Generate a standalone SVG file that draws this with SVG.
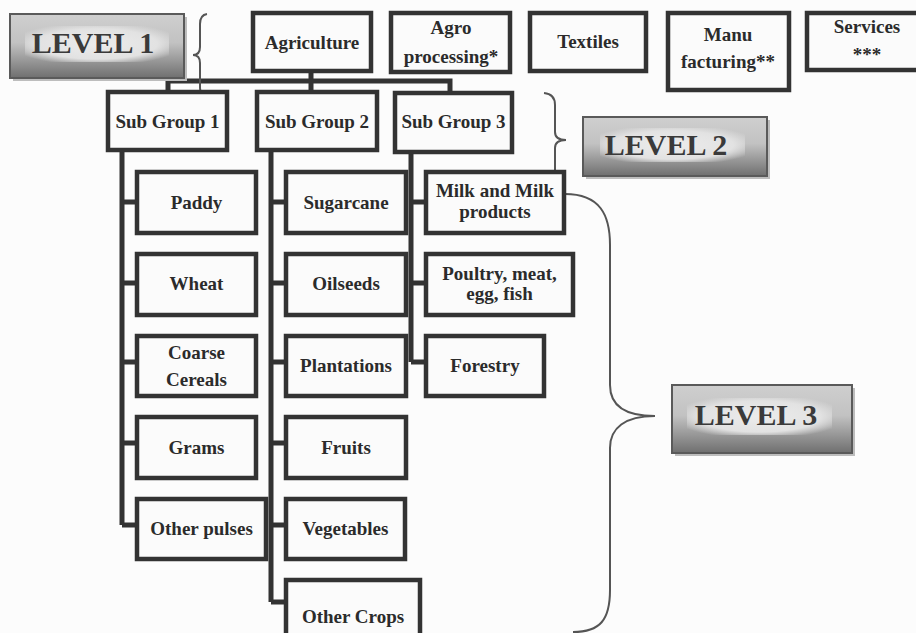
<svg xmlns="http://www.w3.org/2000/svg" width="916" height="633" viewBox="0 0 916 633">
<style>
.box{fill:#fbfbfb;stroke:#333;stroke-width:4.5}
.t{font-family:"Liberation Serif","Times New Roman",serif;font-weight:bold;font-size:19px;fill:#2b2b2b;text-anchor:middle}
.lv{font-family:"Liberation Serif","Times New Roman",serif;font-weight:bold;font-size:30px;fill:#3a3a3a;text-anchor:middle}
.con{fill:none;stroke:#333;stroke-width:5;stroke-linejoin:miter}
.brace{fill:none;stroke:#555;stroke-width:2}
.lvbox{fill:url(#lvg);stroke:#5a5a5a;stroke-width:2}
.lvin{fill:url(#lvi)}
.shadow{fill:#bdbdbd}
</style>
<defs>
<linearGradient id="lvg" x1="0" y1="0" x2="0" y2="1">
<stop offset="0" stop-color="#cfcfcf"/>
<stop offset="0.45" stop-color="#c2c2c2"/>
<stop offset="1" stop-color="#6f6f6f"/>
</linearGradient>
<radialGradient id="lvi" cx="0.5" cy="0.5" r="0.6">
<stop offset="0" stop-color="#ececec"/>
<stop offset="0.7" stop-color="#e2e2e2"/>
<stop offset="1" stop-color="#e2e2e2" stop-opacity="0"/>
</radialGradient>
</defs>
<rect width="916" height="633" fill="#fcfcfc"/>

<g id="connectors">
<path class="con" d="M311,71 V81 M168,92 V81 H450 V94 M311,81 V92"/>
<path class="con" d="M122,150 V525 M122,202 H137 M122,283 H137 M122,362 H137 M122,443 H137 M122,525 H137"/>
<path class="con" d="M271,150 V602 M271,202 H286 M271,283 H286 M271,362 H286 M271,443 H286 M271,525 H286 M271,602 H286"/>
<path class="con" d="M411,152 V362 M411,202 H426 M411,283 H426 M411,362 H426"/>
</g>

<g id="braces">
<path class="brace" d="M207,14 Q200,15 200,24 L200,47 Q200,55 193,55 Q200,55 200,63 L200,88 Q200,96 207,96"/>
<path class="brace" d="M544,93 Q555,94 555,105 L555,132 Q555,140 566,140 Q555,140 555,148 L555,172 Q555,182 544,182"/>
<path class="brace" d="M565,194 C600,194 610,215 610,245 L610,385 C610,405 625,416 655,416 C625,416 610,428 610,448 L610,590 C610,620 600,632 573,632"/>
</g>

<g id="level1">
<rect class="shadow" x="13" y="17" width="174" height="64"/>
<rect class="lvbox" x="10" y="14" width="174" height="64"/>
<rect class="lvin" x="25" y="26" width="144" height="36"/>
<text class="lv" x="93" y="53">LEVEL 1</text>
</g>
<g id="level2">
<rect class="shadow" x="586" y="120" width="184" height="59"/>
<rect class="lvbox" x="583" y="117" width="184" height="59"/>
<rect class="lvin" x="600" y="128" width="145" height="34"/>
<text class="lv" x="666" y="155">LEVEL 2</text>
</g>
<g id="level3">
<rect class="shadow" x="675" y="388" width="180" height="68"/>
<rect class="lvbox" x="672" y="385" width="180" height="68"/>
<rect class="lvin" x="687" y="398" width="145" height="37"/>
<text class="lv" x="756" y="425">LEVEL 3</text>
</g>

<g id="agriculture"><rect class="box" x="253" y="13" width="118" height="58"/><text class="t" x="312" y="49">Agriculture</text></g>
<g id="agro"><rect class="box" x="391" y="13" width="119" height="59"/><text class="t" x="451" y="34">Agro</text><text class="t" x="451" y="63">processing*</text></g>
<g id="textiles"><rect class="box" x="530" y="13" width="116" height="58"/><text class="t" x="588" y="48">Textiles</text></g>
<g id="manufacturing"><rect class="box" x="668" y="13" width="121" height="77"/><text class="t" x="728" y="41">Manu</text><text class="t" x="728" y="68">facturing**</text></g>
<g id="services"><rect class="box" x="807" y="13" width="120" height="57"/><text class="t" x="867" y="33">Services</text><text class="t" x="867" y="61">***</text></g>

<g id="subgroup1"><rect class="box" x="108" y="92" width="119" height="58"/><text class="t" x="167.5" y="128">Sub Group 1</text></g>
<g id="subgroup2"><rect class="box" x="257" y="92" width="120" height="58"/><text class="t" x="317" y="128">Sub Group 2</text></g>
<g id="subgroup3"><rect class="box" x="395" y="93" width="117" height="59"/><text class="t" x="453.5" y="128">Sub Group 3</text></g>

<g id="paddy"><rect class="box" x="137" y="172" width="119" height="61"/><text class="t" x="196.5" y="209">Paddy</text></g>
<g id="wheat"><rect class="box" x="137" y="254" width="119" height="61"/><text class="t" x="196.5" y="290">Wheat</text></g>
<g id="coarse"><rect class="box" x="137" y="336" width="119" height="60"/><text class="t" x="196.5" y="359">Coarse</text><text class="t" x="196.5" y="386">Cereals</text></g>
<g id="grams"><rect class="box" x="137" y="417" width="119" height="61"/><text class="t" x="196.5" y="454">Grams</text></g>
<g id="otherpulses"><rect class="box" x="137" y="499" width="129" height="60"/><text class="t" x="201.5" y="535">Other pulses</text></g>

<g id="sugarcane"><rect class="box" x="286" y="172" width="120" height="61"/><text class="t" x="346" y="209">Sugarcane</text></g>
<g id="oilseeds"><rect class="box" x="286" y="254" width="120" height="61"/><text class="t" x="346" y="290">Oilseeds</text></g>
<g id="plantations"><rect class="box" x="286" y="336" width="120" height="60"/><text class="t" x="346" y="372">Plantations</text></g>
<g id="fruits"><rect class="box" x="286" y="417" width="120" height="61"/><text class="t" x="346" y="454">Fruits</text></g>
<g id="vegetables"><rect class="box" x="286" y="499" width="119" height="60"/><text class="t" x="345.5" y="535">Vegetables</text></g>
<g id="othercrops"><rect class="box" x="286" y="580" width="134" height="66"/><text class="t" x="353" y="623">Other Crops</text></g>

<g id="milk"><rect class="box" x="426" y="172" width="138" height="61"/><text class="t" x="495" y="197">Milk and Milk</text><text class="t" x="495" y="218">products</text></g>
<g id="poultry"><rect class="box" x="426" y="254" width="147" height="61"/><text class="t" x="499.5" y="280">Poultry, meat,</text><text class="t" x="499.5" y="300">egg, fish</text></g>
<g id="forestry"><rect class="box" x="426" y="336" width="118" height="60"/><text class="t" x="485" y="372">Forestry</text></g>
</svg>
